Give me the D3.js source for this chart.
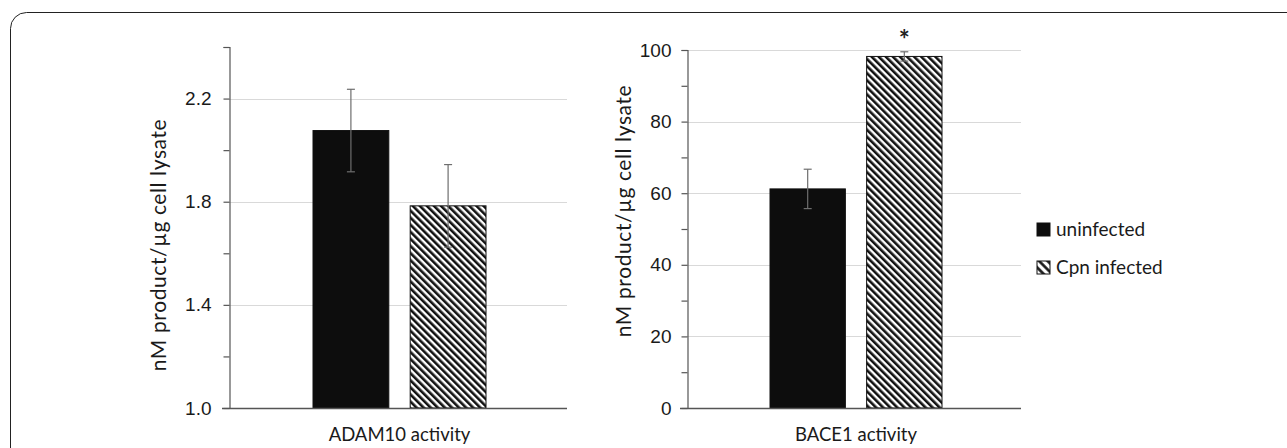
<!DOCTYPE html>
<html>
<head>
<meta charset="utf-8">
<script src="https://cdn.jsdelivr.net/npm/d3@7"></script>
<style>
  body { margin: 0; background: #fff; }
  svg { display: block; font-family: Lato, "Open Sans", sans-serif; }
</style>
</head>
<body>
<div id="svg-container"></div>
<script>
const width = 1287
const height = 448

// DATA
const groups = ["uninfected", "Cpn infected"]
const adamValues = [2.076, 1.784]
const adamErrors = [0.16, 0.16]
const baceValues = [61.2, 98.2]
const baceErrors = [5.5, 1.3]
const adamTicks = [1.0, 1.4, 1.8, 2.2]
const baceTicks = [0, 20, 40, 60, 80, 100]

const svg = d3
  .select("#svg-container")
  .append("svg")
  .attr("width", width)
  .attr("height", height)

// hatch pattern (\\\ stripes)
const defs = svg.append("defs")
const hatch = defs
  .append("pattern")
  .attr("id", "hatch")
  .attr("patternUnits", "userSpaceOnUse")
  .attr("width", 5)
  .attr("height", 5)
  .attr("patternTransform", "rotate(-45)")
hatch.append("rect").attr("width", 5).attr("height", 5).attr("fill", "#fff")
hatch
  .append("line")
  .attr("x1", 1.3).attr("y1", 0)
  .attr("x2", 1.3).attr("y2", 5)
  .attr("stroke", "#111")
  .attr("stroke-width", 2.6)

const legendHatch = defs
  .append("pattern")
  .attr("id", "hatch-legend")
  .attr("patternUnits", "userSpaceOnUse")
  .attr("width", 6)
  .attr("height", 6)
  .attr("patternTransform", "rotate(-45)")
legendHatch.append("rect").attr("width", 6).attr("height", 6).attr("fill", "#fff")
legendHatch
  .append("line")
  .attr("x1", 1.5).attr("y1", 0)
  .attr("x2", 1.5).attr("y2", 6)
  .attr("stroke", "#111")
  .attr("stroke-width", 2.6)

// frame
svg
  .append("rect")
  .attr("x", 10.5)
  .attr("y", 12.5)
  .attr("width", 1320)
  .attr("height", 480)
  .attr("rx", 16)
  .attr("fill", "none")
  .attr("stroke", "#222")
  .attr("stroke-width", 1)

const fills = ["#0d0d0d", "url(#hatch)"]
const legendFills = ["#0d0d0d", "url(#hatch-legend)"]

function drawPanel(cfg) {
  const g = svg.append("g")
  const y = d3.scaleLinear().domain(cfg.domain).range([408, cfg.top])
  const x = d3
    .scaleBand()
    .domain(groups)
    .range([cfg.barStart, cfg.barEnd])
    .paddingInner(cfg.gap)

  // gridlines
  g.selectAll(".grid")
    .data(cfg.ticks.filter((d) => d !== cfg.domain[0]))
    .join("line")
    .attr("x1", cfg.axisX)
    .attr("x2", cfg.gridEnd)
    .attr("y1", (d) => Math.round(y(d)) + 0.5)
    .attr("y2", (d) => Math.round(y(d)) + 0.5)
    .attr("stroke", "#d9d9d9")
    .attr("stroke-width", 1.2)

  // bars
  g.selectAll(".bar")
    .data(cfg.values)
    .join("rect")
    .attr("x", (d, i) => x(groups[i]))
    .attr("y", (d) => y(d))
    .attr("width", x.bandwidth())
    .attr("height", (d) => 408 - y(d))
    .attr("fill", (d, i) => fills[i])
    .attr("stroke", "#111")
    .attr("stroke-width", 1)

  // error bars
  const eb = g
    .selectAll(".err")
    .data(cfg.values)
    .join("g")
    .attr("stroke", "#6e6e6e")
    .attr("stroke-width", 1.2)
  eb.append("line")
    .attr("x1", (d, i) => x(groups[i]) + x.bandwidth() / 2)
    .attr("x2", (d, i) => x(groups[i]) + x.bandwidth() / 2)
    .attr("y1", (d, i) => y(d + cfg.errors[i]))
    .attr("y2", (d, i) => y(d - cfg.errors[i]))
  ;[1, -1].forEach((s) => {
    eb.append("line")
      .attr("x1", (d, i) => x(groups[i]) + x.bandwidth() / 2 - 4)
      .attr("x2", (d, i) => x(groups[i]) + x.bandwidth() / 2 + 4)
      .attr("y1", (d, i) => y(d + s * cfg.errors[i]))
      .attr("y2", (d, i) => y(d + s * cfg.errors[i]))
  })

  // axis
  const axis = d3
    .axisLeft(y)
    .tickValues(cfg.minor)
    .tickSize(6)
    .tickFormat(cfg.format)
  const ax = g
    .append("g")
    .attr("transform", `translate(${cfg.axisX + 0.5},0)`)
    .call(axis)
  ax.select(".domain").attr("stroke", "#555").attr("stroke-width", 1.2)
  ax.selectAll(".tick line").attr("stroke", "#555").attr("stroke-width", 1.2)
  ax.selectAll(".tick text")
    .attr("x", -cfg.labelPad)
    .style("font-size", "19px")
    .attr("fill", "#1a1a1a")
    .text((d) => (cfg.ticks.some((t) => Math.abs(t - d) < 1e-9) ? cfg.format(d) : ""))

  // baseline
  g.append("line")
    .attr("x1", cfg.axisX - 7)
    .attr("x2", cfg.gridEnd)
    .attr("y1", 408.5)
    .attr("y2", 408.5)
    .attr("stroke", "#555")
    .attr("stroke-width", 1.5)

  // category label
  g.append("text")
    .attr("x", (cfg.barStart + cfg.barEnd) / 2)
    .attr("y", 441)
    .attr("text-anchor", "middle")
    .style("font-size", "18.5px")
    .attr("fill", "#1a1a1a")
    .text(cfg.category)

  // y label
  g.append("text")
    .attr("transform", `translate(${cfg.labelX},${cfg.labelY}) rotate(-90)`)
    .attr("text-anchor", "middle")
    .style("font-size", "21px")
    .style("letter-spacing", "0.6px")
    .attr("fill", "#1a1a1a")
    .text("nM product/µg cell lysate")

  return { g, x, y }
}

const adam = drawPanel({
  values: adamValues,
  errors: adamErrors,
  domain: [1.0, 2.4],
  top: 47,
  ticks: adamTicks,
  minor: d3.range(0, 8).map((i) => 1.0 + i * 0.2),
  format: d3.format(".1f"),
  axisX: 229,
  gridEnd: 567,
  barStart: 313,
  barEnd: 486,
  gap: 0.22,
  labelPad: 18,
  labelX: 166,
  labelY: 245,
  category: "ADAM10 activity"
})

const bace = drawPanel({
  values: baceValues,
  errors: baceErrors,
  domain: [0, 100],
  top: 50,
  ticks: baceTicks,
  minor: d3.range(0, 11).map((i) => i * 10),
  format: d3.format("d"),
  axisX: 687,
  gridEnd: 1021,
  barStart: 770,
  barEnd: 942,
  gap: 0.22,
  labelPad: 16,
  labelX: 631,
  labelY: 211,
  category: "BACE1 activity"
})

// significance marker
bace.g
  .append("text")
  .attr("x", bace.x("Cpn infected") + bace.x.bandwidth() / 2)
  .attr("y", bace.y(baceValues[1] + baceErrors[1]) - 3)
  .attr("text-anchor", "middle")
  .style("font-size", "26px")
  .style("font-weight", "bold")
  .attr("fill", "#222")
  .text("*")

// LEGEND
const legend = svg
  .append("g")
  .selectAll("g")
  .data(groups)
  .join("g")
  .attr("transform", (d, i) => `translate(1037,${223 + i * 38})`)
legend
  .append("rect")
  .attr("width", 13)
  .attr("height", 13)
  .attr("fill", (d, i) => legendFills[i])
  .attr("stroke", "#111")
  .attr("stroke-width", 1)
legend
  .append("text")
  .attr("x", 19)
  .attr("y", 13)
  .style("font-size", "19px")
  .attr("fill", "#1a1a1a")
  .text((d) => d)
</script>
</body>
</html>
